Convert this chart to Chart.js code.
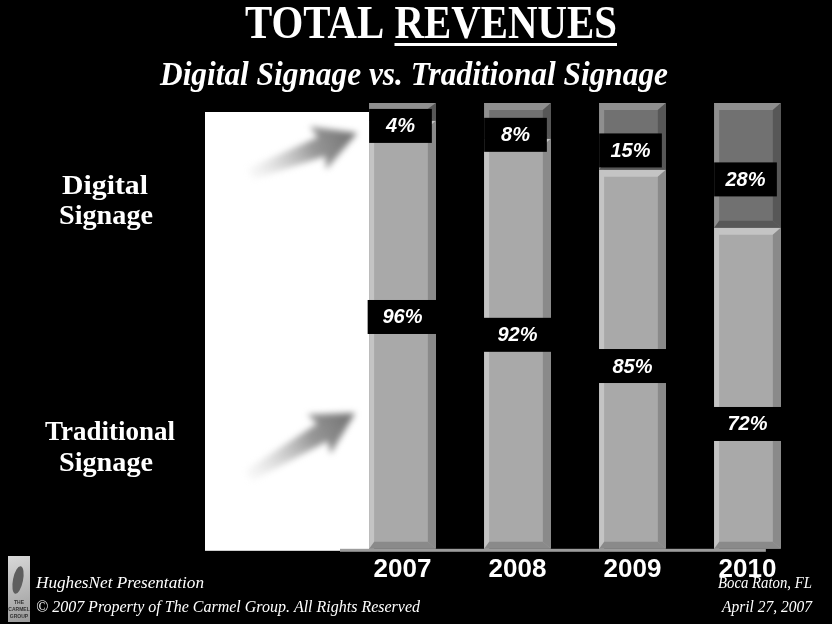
<!DOCTYPE html>
<html>
<head>
<meta charset="utf-8">
<title>Total Revenues</title>
<script src="https://cdn.jsdelivr.net/npm/chart.js@4.4.0/dist/chart.umd.min.js"></script>
<style>
  html, body { margin: 0; padding: 0; background: #000; }
  #wrap { width: 832px; height: 624px; position: relative; }
</style>
</head>
<body>
<div id="wrap"><canvas id="revenueChart"></canvas></div>
<script>
// Share of total revenues per year (percent)
const years = ['2007', '2008', '2009', '2010'];
const traditionalShare = [96, 92, 85, 72];
const digitalShare = [4, 8, 15, 28];

const serif = '"Liberation Serif", "Times New Roman", serif';
const sans = '"Liberation Sans", Arial, sans-serif';

const shades = {
  traditional: { face: '#a9a9a9', light: '#c4c4c4', dark: '#8a8a8a' },
  digital: { face: '#717171', light: '#8f8f8f', dark: '#575757' },
};

// bar rectangles as laid out by the chart
function barRects(chart, datasetIndex) {
  return chart.getDatasetMeta(datasetIndex).data.map((bar) => {
    const p = bar.getProps(['x', 'y', 'base', 'width'], true);
    return {
      x: p.x,
      left: p.x - p.width / 2,
      right: p.x + p.width / 2,
      top: Math.min(p.y, p.base),
      bottom: Math.max(p.y, p.base),
    };
  });
}

function drawBevel(ctx, r, c) {
  const h = r.bottom - r.top;
  const b = Math.min(7, h / 3);
  ctx.fillStyle = c.light;
  ctx.fillRect(r.left, r.top, 5, h);
  ctx.beginPath();
  ctx.moveTo(r.left, r.top);
  ctx.lineTo(r.right, r.top);
  ctx.lineTo(r.right - 8, r.top + b);
  ctx.lineTo(r.left + 5, r.top + b);
  ctx.closePath();
  ctx.fill();

  ctx.fillStyle = c.dark;
  ctx.beginPath();
  ctx.moveTo(r.right, r.top);
  ctx.lineTo(r.right, r.bottom);
  ctx.lineTo(r.right - 8, r.bottom - b);
  ctx.lineTo(r.right - 8, r.top + b);
  ctx.closePath();
  ctx.fill();
  ctx.beginPath();
  ctx.moveTo(r.left, r.bottom);
  ctx.lineTo(r.right, r.bottom);
  ctx.lineTo(r.right - 8, r.bottom - b);
  ctx.lineTo(r.left + 5, r.bottom - b);
  ctx.closePath();
  ctx.fill();
}

function drawTag(ctx, x, cy, w, text) {
  ctx.fillStyle = '#000';
  ctx.fillRect(x - w / 2, cy - 17, w, 34);
  ctx.fillStyle = '#fff';
  ctx.font = `italic bold 20px ${sans}`;
  ctx.textAlign = 'center';
  ctx.textBaseline = 'middle';
  ctx.fillText(text, x, cy + 1);
}

function drawArrow(ctx, x0, y0, x1, y1) {
  const len = Math.hypot(x1 - x0, y1 - y0);
  ctx.save();
  ctx.translate(x0, y0);
  ctx.rotate(Math.atan2(y1 - y0, x1 - x0));
  const g = ctx.createLinearGradient(0, 0, len, 0);
  g.addColorStop(0, 'rgba(200,200,200,0.1)');
  g.addColorStop(0.6, 'rgba(140,140,140,0.9)');
  g.addColorStop(1, 'rgba(110,110,110,1)');
  ctx.fillStyle = g;
  ctx.filter = 'blur(3px)';
  ctx.beginPath();
  ctx.moveTo(0, -6);
  ctx.lineTo(len - 38, -10);
  ctx.lineTo(len - 42, -23);
  ctx.lineTo(len, 0);
  ctx.lineTo(len - 42, 23);
  ctx.lineTo(len - 38, 10);
  ctx.lineTo(0, 6);
  ctx.closePath();
  ctx.fill();
  ctx.restore();
}

// text squeezed to a given width, like the slide's condensed type
function fitText(ctx, text, cx, baseline, font, width, align) {
  ctx.save();
  ctx.font = font;
  const sx = width / ctx.measureText(text).width;
  ctx.translate(cx, baseline);
  ctx.scale(sx, 1);
  ctx.textAlign = align || 'center';
  ctx.textBaseline = 'alphabetic';
  ctx.fillText(text, 0, 0);
  ctx.restore();
}

const slidePlugin = {
  id: 'slide',
  beforeDraw(chart) {
    const ctx = chart.ctx;
    ctx.save();
    ctx.fillStyle = '#000';
    ctx.fillRect(0, 0, chart.width, chart.height);
    ctx.restore();
  },
  beforeDatasetsDraw(chart) {
    const ctx = chart.ctx;
    const area = chart.chartArea;
    const first = barRects(chart, 0)[0];
    const last = barRects(chart, 0)[years.length - 1];
    ctx.save();
    // white panel beside the first bar
    ctx.fillStyle = '#fff';
    ctx.fillRect(205, 112, first.left - 205, area.bottom - 110);
    drawArrow(ctx, 250, 174, first.left - 12, 133);
    drawArrow(ctx, 248, 476, first.left - 14, 413);
    // floor under the bars
    ctx.fillStyle = '#9c9c9c';
    ctx.fillRect(area.left - 5, area.bottom, last.right - 15 - (area.left - 5), 3);
    ctx.restore();
  },
  afterDatasetsDraw(chart) {
    const ctx = chart.ctx;
    const area = chart.chartArea;
    const trad = barRects(chart, 0);
    const digi = barRects(chart, 1);
    ctx.save();
    trad.forEach((r) => drawBevel(ctx, r, shades.traditional));
    digi.forEach((r) => drawBevel(ctx, r, shades.digital));
    digi.forEach((r, i) => {
      const h = r.bottom - r.top;
      drawTag(ctx, r.x - 2, r.top + 14 + h / 2, r.right - r.left - 4, digitalShare[i] + '%');
    });
    trad.forEach((r, i) => {
      const drop = (area.bottom - area.top) * 0.44;
      drawTag(ctx, r.x, r.top + drop, r.right - r.left + 3, traditionalShare[i] + '%');
    });
    ctx.restore();
  },
  afterDraw(chart) {
    const ctx = chart.ctx;
    ctx.save();
    ctx.fillStyle = '#fff';

    // title, with REVENUES underlined
    ctx.font = `bold 47px ${serif}`;
    const wTotal = ctx.measureText('TOTAL ').width;
    const wRev = ctx.measureText('REVENUES').width;
    const sx = 372 / (wTotal + wRev);
    ctx.save();
    ctx.translate(431 - 186, 38);
    ctx.scale(sx, 1);
    ctx.textAlign = 'left';
    ctx.textBaseline = 'alphabetic';
    ctx.fillText('TOTAL ', 0, 0);
    ctx.fillText('REVENUES', wTotal, 0);
    ctx.fillRect(wTotal, 5, wRev, 3);
    ctx.restore();

    fitText(ctx, 'Digital Signage vs. Traditional Signage', 414, 85, `italic bold 33px ${serif}`, 508);

    // side captions
    fitText(ctx, 'Digital', 105, 194, `bold 28px ${serif}`, 86);
    fitText(ctx, 'Signage', 106, 224, `bold 28px ${serif}`, 94);
    fitText(ctx, 'Traditional', 110, 440, `bold 28px ${serif}`, 130);
    fitText(ctx, 'Signage', 106, 471, `bold 28px ${serif}`, 94);

    // footer
    fitText(ctx, 'HughesNet Presentation', 36, 588, `italic 17px ${serif}`, 168, 'left');
    fitText(ctx, '\u00A9 2007 Property of The Carmel Group. All Rights Reserved', 36, 612, `italic 17px ${serif}`, 384, 'left');
    fitText(ctx, 'Boca Raton, FL', 812, 588, `italic 17px ${serif}`, 94, 'right');
    fitText(ctx, 'April 27, 2007', 812, 612, `italic 17px ${serif}`, 90, 'right');

    // small company mark
    const lg = ctx.createLinearGradient(8, 556, 30, 622);
    lg.addColorStop(0, '#d8d8d8');
    lg.addColorStop(1, '#9a9a9a');
    ctx.fillStyle = lg;
    ctx.fillRect(8, 556, 22, 66);
    ctx.fillStyle = '#5e5e5e';
    ctx.beginPath();
    ctx.ellipse(18, 580, 5, 14, 0.2, 0, Math.PI * 2);
    ctx.fill();
    ctx.font = `bold 5px ${sans}`;
    ctx.textAlign = 'center';
    ctx.fillStyle = '#333';
    ctx.fillText('THE', 19, 604);
    ctx.fillText('CARMEL', 19, 611);
    ctx.fillText('GROUP', 19, 618);
    ctx.restore();
  },
};

new Chart(document.getElementById('revenueChart'), {
  type: 'bar',
  data: {
    labels: years,
    datasets: [
      {
        label: 'Traditional Signage',
        data: traditionalShare,
        backgroundColor: shades.traditional.face,
        borderWidth: 0,
      },
      {
        label: 'Digital Signage',
        data: digitalShare,
        backgroundColor: shades.digital.face,
        borderWidth: 0,
      },
    ],
  },
  options: {
    responsive: true,
    maintainAspectRatio: false,
    animation: false,
    layout: { padding: { left: 345, right: 27, top: 103, bottom: 34 } },
    datasets: { bar: { barPercentage: 0.58, categoryPercentage: 1 } },
    plugins: {
      legend: { display: false },
      tooltip: { enabled: false },
      title: { display: false },
    },
    scales: {
      x: {
        stacked: true,
        grid: { display: false, drawTicks: false },
        border: { display: false },
        ticks: {
          color: '#fff',
          padding: 5,
          font: { family: sans, size: 26, weight: 'bold' },
        },
      },
      y: {
        stacked: true,
        display: false,
        min: 0,
        max: 100,
      },
    },
  },
  plugins: [slidePlugin],
});
</script>
</body>
</html>
